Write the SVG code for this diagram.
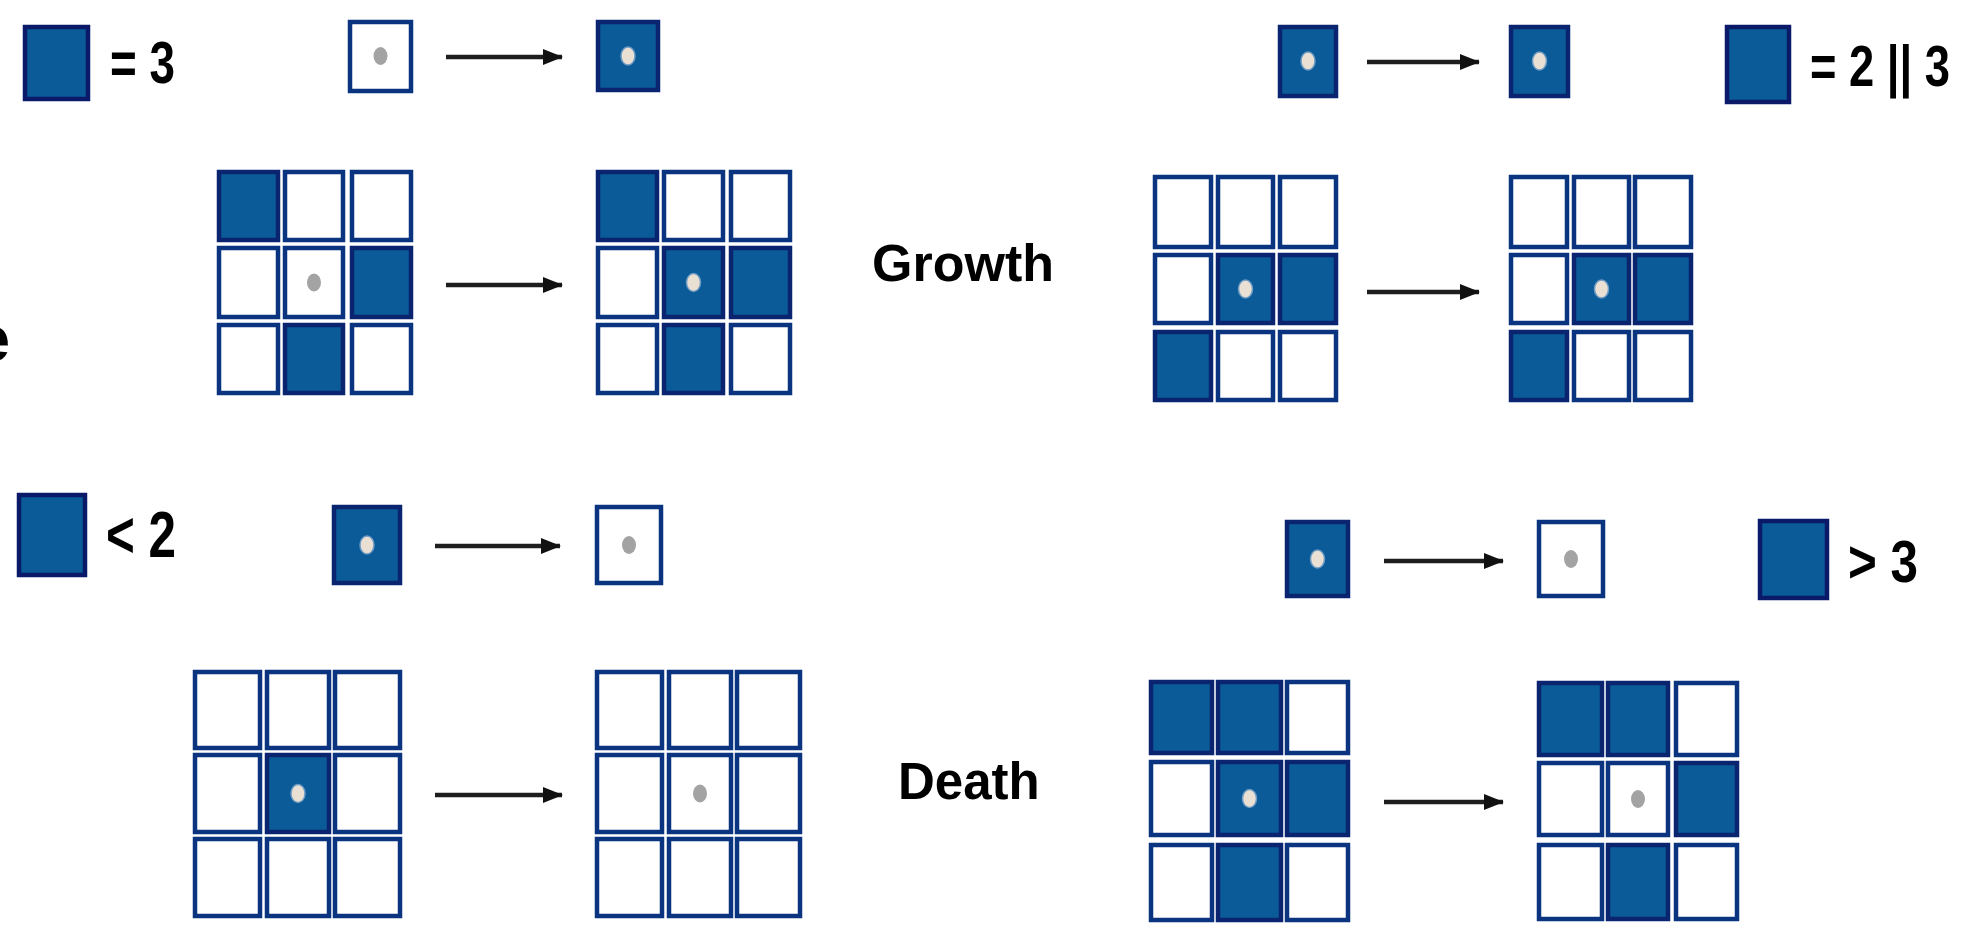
<svg xmlns="http://www.w3.org/2000/svg" width="1966" height="928" viewBox="0 0 1966 928">
<style>
  .f { fill: #0b5b98; stroke: #0a2470; stroke-width: 4.5; }
  .w { fill: #ffffff; stroke: #0b3480; stroke-width: 4.5; }
  .lg { fill: #0b5b98; stroke: #0a1a68; stroke-width: 4.5; }
  .dg { fill: #a3a3a3; }
  .dl { fill: #eadfd3; stroke: #6f9cc4; stroke-width: 1.5; }
  .lbl { font-family: "Liberation Sans", Arial, sans-serif; font-weight: bold; fill: #000; }
  .big { font-family: "Liberation Sans", Arial, sans-serif; font-weight: bold; fill: #000; }
  .arr { stroke: #1e1e1e; stroke-width: 4.5; fill: none; marker-end: url(#ah); }
</style>
<defs>
  <marker id="ah" markerUnits="userSpaceOnUse" markerWidth="20" markerHeight="20" viewBox="0 0 20 20" refX="19" refY="10" orient="auto">
    <path d="M0,2 L20,10 L0,18 z" fill="#111"/>
  </marker>
</defs>
<rect width="1966" height="928" fill="#ffffff"/>

<text class="big" x="10" y="361" font-size="64" text-anchor="end">e</text>

<g id="legend-eq3">
  <rect class="lg" x="25" y="27" width="63" height="72"/>
  <text class="lbl" x="110" y="83" font-size="60" textLength="65" lengthAdjust="spacingAndGlyphs">= 3</text>
</g>
<g id="legend-eq2or3">
  <rect class="lg" x="1727" y="27" width="62" height="75"/>
  <text class="lbl" x="1810" y="86" font-size="58" textLength="140" lengthAdjust="spacingAndGlyphs">= 2 || 3</text>
</g>
<g id="legend-lt2">
  <rect class="lg" x="19" y="495" width="66" height="80"/>
  <text class="lbl" x="106" y="557" font-size="64" textLength="70" lengthAdjust="spacingAndGlyphs">&lt; 2</text>
</g>
<g id="legend-gt3">
  <rect class="lg" x="1760" y="521" width="67" height="77"/>
  <text class="lbl" x="1848" y="582" font-size="60" textLength="70" lengthAdjust="spacingAndGlyphs">&gt; 3</text>
</g>

<g id="label-growth"><text class="big" x="872" y="281" font-size="52">Growth</text></g>
<g id="label-death"><text class="big" x="898" y="799" font-size="51">Death</text></g>

<g id="s1"><rect class="w" x="350" y="22" width="61" height="69"/><ellipse class="dg" cx="380.5" cy="56" rx="7" ry="9"/></g>
<g id="s2"><rect class="f" x="598" y="22" width="60" height="68"/><ellipse class="dl" cx="628" cy="56" rx="7" ry="9"/></g>
<g id="s3"><rect class="f" x="1280" y="27" width="56" height="69"/><ellipse class="dl" cx="1308" cy="61" rx="7" ry="9"/></g>
<g id="s4"><rect class="f" x="1511" y="27" width="57" height="69"/><ellipse class="dl" cx="1539.5" cy="61" rx="7" ry="9"/></g>
<g id="s5"><rect class="f" x="334" y="507" width="66" height="76"/><ellipse class="dl" cx="367" cy="545" rx="7" ry="9"/></g>
<g id="s6"><rect class="w" x="597" y="507" width="64" height="76"/><ellipse class="dg" cx="629" cy="545" rx="7" ry="9"/></g>
<g id="s7"><rect class="f" x="1287" y="522" width="61" height="74"/><ellipse class="dl" cx="1317.5" cy="559" rx="7" ry="9"/></g>
<g id="s8"><rect class="w" x="1539" y="522" width="64" height="74"/><ellipse class="dg" cx="1571" cy="559" rx="7" ry="9"/></g>

<g id="g1">
  <rect class="f" x="219" y="172" width="59" height="68"/>
  <rect class="w" x="285" y="172" width="58" height="68"/>
  <rect class="w" x="352" y="172" width="59" height="68"/>
  <rect class="w" x="219" y="248" width="59" height="69"/>
  <rect class="w" x="285" y="248" width="58" height="69"/>
  <rect class="f" x="352" y="248" width="59" height="69"/>
  <rect class="w" x="219" y="325" width="59" height="68"/>
  <rect class="f" x="285" y="325" width="58" height="68"/>
  <rect class="w" x="352" y="325" width="59" height="68"/>
  <ellipse class="dg" cx="314" cy="282.5" rx="7" ry="9"/>
</g>
<g id="g2">
  <rect class="f" x="598" y="172" width="59" height="68"/>
  <rect class="w" x="664" y="172" width="59" height="68"/>
  <rect class="w" x="731" y="172" width="59" height="68"/>
  <rect class="w" x="598" y="248" width="59" height="69"/>
  <rect class="f" x="664" y="248" width="59" height="69"/>
  <rect class="f" x="731" y="248" width="59" height="69"/>
  <rect class="w" x="598" y="325" width="59" height="68"/>
  <rect class="f" x="664" y="325" width="59" height="68"/>
  <rect class="w" x="731" y="325" width="59" height="68"/>
  <ellipse class="dl" cx="693.5" cy="282.5" rx="7" ry="9"/>
</g>
<g id="g3">
  <rect class="w" x="1155" y="177" width="56" height="70"/>
  <rect class="w" x="1218" y="177" width="55" height="70"/>
  <rect class="w" x="1280" y="177" width="56" height="70"/>
  <rect class="w" x="1155" y="255" width="56" height="68"/>
  <rect class="f" x="1218" y="255" width="55" height="68"/>
  <rect class="f" x="1280" y="255" width="56" height="68"/>
  <rect class="f" x="1155" y="332" width="56" height="68"/>
  <rect class="w" x="1218" y="332" width="55" height="68"/>
  <rect class="w" x="1280" y="332" width="56" height="68"/>
  <ellipse class="dl" cx="1245.5" cy="289" rx="7" ry="9"/>
</g>
<g id="g4">
  <rect class="w" x="1511" y="177" width="56" height="70"/>
  <rect class="w" x="1574" y="177" width="55" height="70"/>
  <rect class="w" x="1635" y="177" width="56" height="70"/>
  <rect class="w" x="1511" y="255" width="56" height="68"/>
  <rect class="f" x="1574" y="255" width="55" height="68"/>
  <rect class="f" x="1635" y="255" width="56" height="68"/>
  <rect class="f" x="1511" y="332" width="56" height="68"/>
  <rect class="w" x="1574" y="332" width="55" height="68"/>
  <rect class="w" x="1635" y="332" width="56" height="68"/>
  <ellipse class="dl" cx="1601.5" cy="289" rx="7" ry="9"/>
</g>
<g id="g5">
  <rect class="w" x="195" y="672" width="65" height="76"/>
  <rect class="w" x="267" y="672" width="62" height="76"/>
  <rect class="w" x="335" y="672" width="65" height="76"/>
  <rect class="w" x="195" y="755" width="65" height="77"/>
  <rect class="f" x="267" y="755" width="62" height="77"/>
  <rect class="w" x="335" y="755" width="65" height="77"/>
  <rect class="w" x="195" y="839" width="65" height="77"/>
  <rect class="w" x="267" y="839" width="62" height="77"/>
  <rect class="w" x="335" y="839" width="65" height="77"/>
  <ellipse class="dl" cx="298" cy="793.5" rx="7" ry="9"/>
</g>
<g id="g6">
  <rect class="w" x="597" y="672" width="65" height="76"/>
  <rect class="w" x="669" y="672" width="62" height="76"/>
  <rect class="w" x="737" y="672" width="63" height="76"/>
  <rect class="w" x="597" y="755" width="65" height="77"/>
  <rect class="w" x="669" y="755" width="62" height="77"/>
  <rect class="w" x="737" y="755" width="63" height="77"/>
  <rect class="w" x="597" y="839" width="65" height="77"/>
  <rect class="w" x="669" y="839" width="62" height="77"/>
  <rect class="w" x="737" y="839" width="63" height="77"/>
  <ellipse class="dg" cx="700" cy="793.5" rx="7" ry="9"/>
</g>
<g id="g7">
  <rect class="f" x="1151" y="682" width="61" height="71"/>
  <rect class="f" x="1218" y="682" width="63" height="71"/>
  <rect class="w" x="1287" y="682" width="61" height="71"/>
  <rect class="w" x="1151" y="762" width="61" height="73"/>
  <rect class="f" x="1218" y="762" width="63" height="73"/>
  <rect class="f" x="1287" y="762" width="61" height="73"/>
  <rect class="w" x="1151" y="845" width="61" height="75"/>
  <rect class="f" x="1218" y="845" width="63" height="75"/>
  <rect class="w" x="1287" y="845" width="61" height="75"/>
  <ellipse class="dl" cx="1249.5" cy="798.5" rx="7" ry="9"/>
</g>
<g id="g8">
  <rect class="f" x="1539" y="683" width="63" height="72"/>
  <rect class="f" x="1608" y="683" width="60" height="72"/>
  <rect class="w" x="1676" y="683" width="61" height="72"/>
  <rect class="w" x="1539" y="763" width="63" height="72"/>
  <rect class="w" x="1608" y="763" width="60" height="72"/>
  <rect class="f" x="1676" y="763" width="61" height="72"/>
  <rect class="w" x="1539" y="845" width="63" height="74"/>
  <rect class="f" x="1608" y="845" width="60" height="74"/>
  <rect class="w" x="1676" y="845" width="61" height="74"/>
  <ellipse class="dg" cx="1638" cy="799" rx="7" ry="9"/>
</g>

<g id="connectors">
  <line class="arr" x1="446" y1="57" x2="562" y2="57"/>
  <line class="arr" x1="446" y1="285" x2="562" y2="285"/>
  <line class="arr" x1="1367" y1="62" x2="1479" y2="62"/>
  <line class="arr" x1="1367" y1="292" x2="1479" y2="292"/>
  <line class="arr" x1="435" y1="546" x2="560" y2="546"/>
  <line class="arr" x1="435" y1="795" x2="562" y2="795"/>
  <line class="arr" x1="1384" y1="561" x2="1503" y2="561"/>
  <line class="arr" x1="1384" y1="802" x2="1503" y2="802"/>
</g>
</svg>
